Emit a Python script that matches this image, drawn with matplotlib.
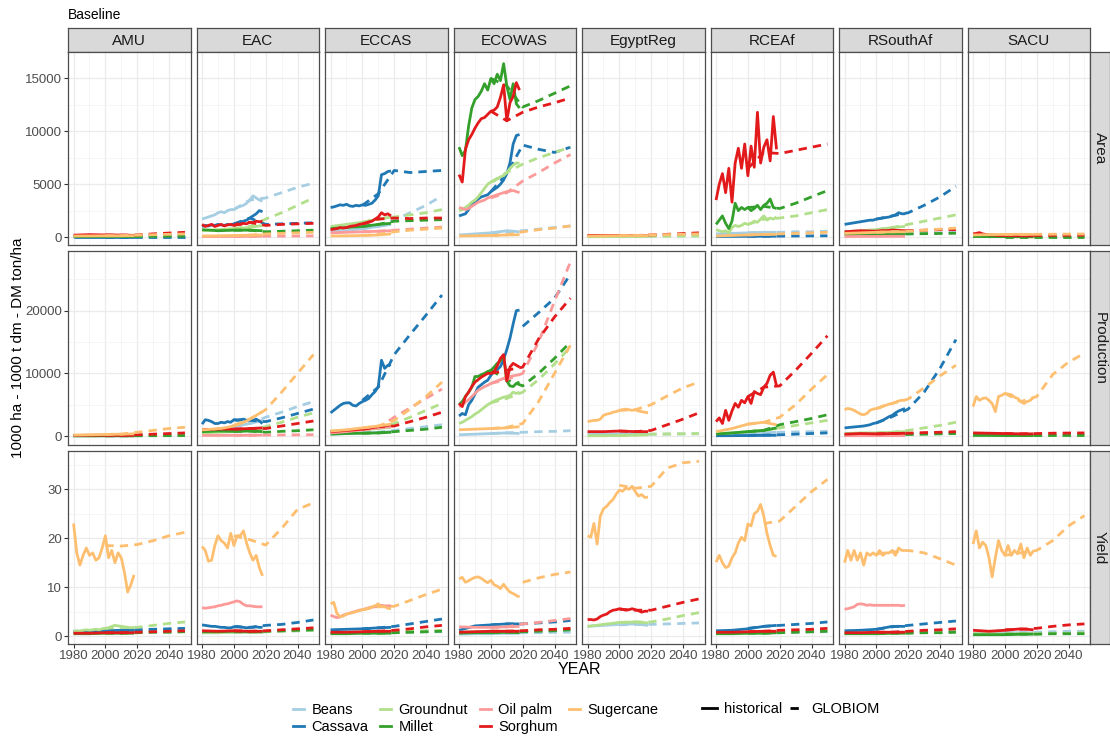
import matplotlib
matplotlib.use("Agg")
import matplotlib.pyplot as plt
from matplotlib.lines import Line2D

plt.rcParams['font.family'] = ['Liberation Sans', 'DejaVu Sans']

REGIONS = ["AMU", "EAC", "ECCAS", "ECOWAS", "EgyptReg", "RCEAf", "RSouthAf", "SACU"]
VARIABLES = ["Area", "Production", "Yield"]
CROPS = ["Beans", "Cassava", "Groundnut", "Millet", "Oil palm", "Sorghum", "Sugercane"]
COLORS = {"Beans": "#A6CEE3", "Cassava": "#1F78B4", "Groundnut": "#B2DF8A", "Millet": "#33A02C",
          "Oil palm": "#FB9A99", "Sorghum": "#E31A1C", "Sugercane": "#FDBF6F"}

# historical series: 20 values -> every 2nd year 1980-2018, 5 values -> coarse years
FINE_YEARS = list(range(1980, 2019, 2))
COARSE_YEARS = [1980, 1990, 2000, 2010, 2018]
GLOBIOM_YEARS = [2000, 2010, 2020, 2030, 2040, 2050]

# ---------------- Area ----------------
AMU_AREA = {
    "Beans": [20, 20, 30, 30, 30], "Cassava": [10, 10, 10, 10, 10],
    "Groundnut": [60, 50, 70, 80, 60], "Millet": [40, 40, 50, 60, 40],
    "Sorghum": [180, 230, 200, 190, 160], "Sugercane": [100, 110, 120, 120, 130]}
AMU_AREA_G = {
    "Beans": [30, 30, 40, 50, 50, 60], "Cassava": [10, 10, 10, 10, 10, 10],
    "Groundnut": [70, 80, 90, 110, 130, 150], "Millet": [50, 60, 60, 70, 80, 90],
    "Sorghum": [200, 180, 200, 300, 380, 450], "Sugercane": [120, 130, 180, 220, 260, 300]}

EAC_AREA = {
    "Beans": [1700, 1800, 1900, 2000, 2100, 2300, 2400, 2300, 2500, 2600, 2600, 2800, 2900, 3000, 3200, 3500, 3900, 3700, 3500, 3400],
    "Cassava": [1000, 1100, 1050, 1150, 1100, 1200, 1150, 1100, 1200, 1150, 1250, 1300, 1400, 1500, 1600, 1800, 2000, 2200, 2500, 2400],
    "Groundnut": [600, 700, 800, 900, 1100], "Millet": [700, 600, 650, 650, 600],
    "Oil palm": [50, 50, 60, 70, 80],
    "Sorghum": [1200, 1000, 1100, 1200, 1000, 1100, 1200, 1050, 1150, 1200, 1100, 1250, 1200, 1300, 1250, 1400, 1350, 1500, 1450, 1500],
    "Sugercane": [100, 120, 150, 180, 200]}
EAC_AREA_G = {
    "Beans": [2600, 3500, 3700, 4200, 4700, 5100], "Cassava": [1250, 1800, 1200, 1250, 1300, 1350],
    "Groundnut": [800, 1000, 1700, 2300, 3000, 3700], "Millet": [650, 650, 500, 550, 600, 650],
    "Oil palm": [60, 70, 80, 90, 100, 110], "Sorghum": [1100, 1400, 1100, 1200, 1250, 1300],
    "Sugercane": [150, 180, 300, 350, 400, 450]}

ECCAS_AREA = {
    "Beans": [500, 600, 800, 1000, 1200],
    "Cassava": [2800, 2850, 2950, 3050, 3000, 3100, 2950, 2900, 3000, 2950, 3050, 3000, 3100, 3200, 3500, 3900, 5900, 6000, 6200, 6250],
    "Groundnut": [1000, 1200, 1400, 1700, 1900], "Millet": [800, 900, 1000, 1200, 1300],
    "Oil palm": [400, 450, 500, 550, 600],
    "Sorghum": [700, 750, 800, 900, 850, 900, 1000, 1050, 1100, 1200, 1250, 1300, 1400, 1500, 1700, 1900, 2300, 2100, 2200, 2000],
    "Sugercane": [100, 120, 150, 200, 300]}
ECCAS_AREA_G = {
    "Beans": [800, 1000, 1600, 2300, 3000, 3900], "Cassava": [3000, 4100, 6300, 6100, 6200, 6300],
    "Groundnut": [1400, 1700, 1900, 2100, 2300, 2600], "Millet": [1000, 1200, 1500, 1550, 1600, 1650],
    "Oil palm": [500, 550, 650, 750, 850, 950], "Sorghum": [1250, 1700, 1800, 1750, 1800, 1800],
    "Sugercane": [150, 250, 500, 650, 750, 850]}

ECOWAS_AREA = {
    "Beans": [200, 300, 400, 600, 500],
    "Cassava": [2000, 2100, 2200, 2600, 3200, 3300, 3600, 3800, 3900, 4000, 4300, 4500, 4700, 5000, 5400, 6000, 7000, 8800, 9600, 9700],
    "Groundnut": [2500, 2600, 2800, 3000, 3300, 3500, 3800, 4200, 4600, 5000, 5200, 5300, 5500, 5700, 5800, 6100, 6500, 6800, 7000, 7000],
    "Millet": [8500, 7700, 8200, 10500, 12200, 13000, 13300, 13800, 14500, 13900, 15000, 14500, 15400, 14800, 16400, 14300, 13000, 14500, 12600, 12200],
    "Oil palm": [2800, 2700, 2600, 2700, 2900, 3100, 3300, 3400, 3500, 3700, 3800, 3900, 4000, 4100, 4200, 4300, 4350, 4400, 4300, 4200],
    "Sorghum": [5900, 5200, 8300, 9200, 9700, 10300, 10800, 11200, 11300, 11600, 11900, 12000, 12300, 13200, 14400, 11000, 12700, 13300, 14600, 13900],
    "Sugercane": [100, 120, 150, 200, 220]}
ECOWAS_AREA_G = {
    "Beans": [400, 500, 600, 750, 900, 1050], "Cassava": [4300, 6000, 8700, 8300, 8000, 8500],
    "Groundnut": [5200, 6100, 6900, 7500, 8000, 8500], "Millet": [15000, 14300, 12300, 12900, 13600, 14300],
    "Oil palm": [3700, 4200, 5300, 6100, 7000, 7800], "Sorghum": [11900, 11000, 11800, 12300, 12700, 13150],
    "Sugercane": [150, 200, 500, 700, 850, 1050]}

EGYPT_AREA = {
    "Beans": [120, 100, 110, 90, 80], "Groundnut": [30, 40, 50, 60, 60],
    "Sorghum": [160, 150, 160, 150, 140], "Sugercane": [100, 110, 130, 140, 140]}
EGYPT_AREA_G = {
    "Beans": [100, 90, 100, 110, 120, 130], "Groundnut": [50, 60, 70, 80, 90, 100],
    "Sorghum": [150, 150, 200, 260, 330, 400], "Sugercane": [130, 140, 200, 230, 260, 300]}

RCEAF_AREA = {
    "Beans": [300, 350, 400, 450, 450], "Cassava": [50, 60, 70, 80, 80],
    "Groundnut": [700, 600, 500, 600, 400, 900, 1100, 1000, 1100, 1300, 1200, 1300, 1500, 1400, 1700, 2000, 1600, 1800, 1700, 1900],
    "Millet": [1200, 1600, 2000, 1300, 800, 1500, 3200, 2500, 2800, 2600, 2800, 2500, 2700, 3000, 2600, 3000, 3200, 3600, 2800, 2700],
    "Sorghum": [3500, 5000, 6000, 4200, 6500, 3300, 7000, 8400, 6500, 8800, 5800, 8600, 6600, 11800, 7000, 8500, 9200, 7200, 11400, 8300],
    "Sugercane": [100, 150, 200, 250, 250]}
RCEAF_AREA_G = {
    "Beans": [400, 450, 450, 500, 500, 550], "Cassava": [70, 80, 90, 100, 110, 120],
    "Groundnut": [1200, 1700, 1800, 2000, 2300, 2600], "Millet": [2800, 2900, 2700, 3200, 3800, 4400],
    "Sorghum": [6500, 8000, 7900, 8200, 8500, 8800], "Sugercane": [200, 250, 300, 350, 400, 450]}

RSOUTH_AREA = {
    "Beans": [200, 250, 250, 300, 300],
    "Cassava": [1200, 1250, 1300, 1350, 1400, 1450, 1500, 1550, 1600, 1600, 1700, 1750, 1800, 1850, 1900, 2000, 2100, 2300, 2200, 2200],
    "Groundnut": [500, 600, 700, 900, 1000], "Millet": [200, 250, 250, 300, 300],
    "Oil palm": [50, 60, 60, 70, 70], "Sorghum": [500, 600, 550, 650, 600],
    "Sugercane": [350, 400, 450, 500, 500]}
RSOUTH_AREA_G = {
    "Beans": [250, 300, 300, 350, 400, 450], "Cassava": [1700, 2000, 2300, 3000, 3800, 4800],
    "Groundnut": [700, 900, 1200, 1500, 1800, 2100], "Millet": [250, 300, 300, 320, 340, 360],
    "Sorghum": [550, 650, 600, 650, 700, 700], "Sugercane": [450, 500, 550, 650, 750, 850]}

SACU_AREA = {
    "Beans": [50, 50, 60, 60, 60], "Groundnut": [80, 60, 50, 40, 40], "Millet": [50, 40, 40, 30, 30],
    "Sorghum": [300, 350, 420, 300, 250, 200, 200, 180, 150, 150, 150, 130, 140, 130, 120, 130, 120, 110, 120, 110],
    "Sugercane": [200, 230, 250, 260, 250]}
SACU_AREA_G = {
    "Beans": [60, 60, 70, 70, 80, 80], "Groundnut": [40, 40, 50, 50, 60, 60],
    "Millet": [30, 30, 30, 30, 30, 30], "Sorghum": [150, 130, 150, 160, 170, 180],
    "Sugercane": [250, 250, 260, 270, 280, 290]}

# ---------------- Production ----------------
AMU_PROD = {
    "Beans": [20, 20, 30, 30, 30], "Groundnut": [50, 50, 60, 70, 70], "Millet": [30, 30, 40, 40, 30],
    "Sorghum": [100, 120, 130, 120, 110], "Sugercane": [150, 200, 250, 300, 350]}
AMU_PROD_G = {
    "Beans": [30, 30, 40, 50, 60, 70], "Groundnut": [60, 70, 100, 150, 200, 250],
    "Millet": [40, 40, 50, 60, 70, 80], "Sorghum": [130, 120, 200, 300, 400, 500],
    "Sugercane": [250, 300, 600, 900, 1200, 1400]}

EAC_PROD = {
    "Beans": [800, 1100, 1500, 2000, 2500],
    "Cassava": [1900, 2600, 2500, 2300, 2000, 2000, 2200, 2100, 2300, 2200, 2600, 2500, 2600, 2700, 2500, 2600, 2500, 2700, 2400, 2000],
    "Groundnut": [500, 600, 700, 900, 1000], "Millet": [700, 800, 750, 800, 700],
    "Oil palm": [100, 100, 120, 130, 150], "Sorghum": [1000, 1100, 1100, 1200, 1300],
    "Sugercane": [1000, 1000, 1050, 1100, 1100, 1200, 1200, 1300, 1400, 1500, 1700, 1800, 2000, 2200, 2400, 2700, 3000, 3300, 3600, 3900]}
EAC_PROD_G = {
    "Beans": [1500, 2000, 3000, 3800, 4700, 5500], "Cassava": [2600, 2500, 2300, 2900, 3600, 4300],
    "Groundnut": [700, 900, 1500, 2200, 3000, 3700], "Millet": [750, 800, 600, 750, 850, 1000],
    "Oil palm": [120, 130, 150, 170, 190, 210], "Sorghum": [1100, 1200, 1200, 1600, 2000, 2400],
    "Sugercane": [1700, 2700, 4200, 7000, 10000, 13000]}

ECCAS_PROD = {
    "Beans": [300, 400, 500, 600, 700],
    "Cassava": [3700, 4100, 4500, 4900, 5200, 5300, 5300, 4900, 4800, 5200, 5500, 5700, 6000, 6600, 7100, 7900, 12100, 10800, 11300, 11400],
    "Groundnut": [800, 900, 1000, 1200, 1400], "Millet": [300, 400, 450, 500, 600],
    "Oil palm": [500, 700, 1000, 1300, 1500], "Sorghum": [700, 900, 1100, 1500, 1800],
    "Sugercane": [800, 1000, 1300, 1600, 1900]}
ECCAS_PROD_G = {
    "Beans": [500, 600, 900, 1200, 1500, 1800], "Cassava": [5700, 7800, 13000, 16200, 19300, 22500],
    "Groundnut": [1000, 1200, 2000, 3000, 4100, 5200], "Millet": [450, 500, 700, 900, 1100, 1400],
    "Oil palm": [1000, 1300, 3000, 4500, 6000, 7500], "Sorghum": [1100, 1500, 1600, 2300, 3000, 3800],
    "Sugercane": [1300, 1600, 2500, 4300, 6300, 8600]}

ECOWAS_PROD = {
    "Beans": [200, 300, 400, 500, 400],
    "Cassava": [3200, 3600, 3400, 5000, 5700, 6700, 7800, 8200, 8600, 8900, 9700, 10300, 10600, 11100, 12200, 13800, 15600, 17900, 20000, 20100],
    "Groundnut": [2000, 2200, 2500, 2800, 3100, 3500, 3800, 4200, 4600, 5000, 5300, 5600, 5800, 6000, 6200, 6300, 6500, 7000, 6800, 7000],
    "Millet": [5000, 5500, 6300, 7000, 7800, 9500, 9500, 9800, 10000, 10300, 10500, 11000, 11600, 12000, 12900, 8800, 8000, 7900, 8400, 8600],
    "Oil palm": [4700, 5000, 5400, 5800, 6300, 6800, 7300, 7600, 7900, 8100, 8400, 8600, 8800, 9000, 9200, 9400, 9500, 9600, 9700, 9800],
    "Sorghum": [5200, 4700, 6300, 7000, 7900, 8600, 9000, 9400, 9700, 10000, 10000, 10300, 11200, 12400, 13000, 8800, 11000, 11600, 11300, 11000],
    "Sugercane": [1000, 1100, 1200, 1300, 1500]}
ECOWAS_PROD_G = {
    "Beans": [400, 500, 600, 700, 750, 850], "Cassava": [None, None, 17500, 19700, 22000, 25800],
    "Groundnut": [5300, 6000, 7000, 9000, 11500, 14200], "Millet": [10500, 9000, 8000, 10000, 12400, 15000],
    "Oil palm": [8400, 9000, 10000, 15000, 21500, 27800], "Sorghum": [10000, 10500, 11000, 15500, 19000, 22000],
    "Sugercane": [1200, 1400, 2000, 5500, 10000, 14500]}

EGYPT_PROD = {
    "Beans": [300, 300, 350, 300, 250], "Groundnut": [50, 60, 100, 150, 200],
    "Sorghum": [700, 700, 800, 700, 700],
    "Sugercane": [2300, 2400, 2500, 2500, 2700, 3300, 3500, 3600, 3800, 3900, 4100, 4200, 4300, 4200, 4100, 4200, 4000, 3900, 3800, 3700]}
EGYPT_PROD_G = {
    "Beans": [350, 300, 300, 320, 340, 360], "Groundnut": [100, 150, 300, 330, 360, 400],
    "Sorghum": [800, 700, 900, 1800, 2700, 3700], "Sugercane": [4100, 4200, 5000, 6400, 7700, 8600]}

RCEAF_PROD = {
    "Beans": [200, 300, 400, 500, 600], "Cassava": [50, 60, 80, 100, 120],
    "Groundnut": [400, 500, 700, 900, 1200], "Millet": [300, 500, 700, 900, 1300],
    "Sorghum": [2300, 2900, 2000, 4100, 2500, 4000, 5200, 4600, 5700, 5300, 6300, 5200, 7100, 6800, 6600, 7800, 8400, 9700, 10200, 8000],
    "Sugercane": [700, 1200, 1900, 2200, 1800]}
RCEAF_PROD_G = {
    "Beans": [400, 500, 600, 650, 700, 750], "Cassava": [100, 150, 200, 300, 400, 500],
    "Groundnut": [700, 900, 1300, 1700, 2100, 2500], "Millet": [700, 900, 1800, 2300, 2800, 3400],
    "Sorghum": [6300, 7800, 8000, 10500, 13200, 16000], "Sugercane": [1900, 2200, 3000, 5000, 7500, 9800]}

RSOUTH_PROD = {
    "Beans": [100, 150, 200, 250, 300],
    "Cassava": [1300, 1350, 1400, 1450, 1500, 1550, 1600, 1700, 1800, 2000, 2100, 2300, 2500, 2800, 3100, 3300, 3700, 4000, 4200, 4400],
    "Groundnut": [400, 500, 500, 600, 700], "Millet": [150, 200, 200, 200, 250],
    "Oil palm": [50, 60, 60, 70, 70], "Sorghum": [300, 400, 350, 400, 450],
    "Sugercane": [4200, 4400, 4300, 4100, 3800, 3500, 3400, 3600, 4100, 4300, 4400, 4500, 4800, 4900, 5100, 5200, 5400, 5600, 5700, 5700]}
RSOUTH_PROD_G = {
    "Beans": [200, 250, 300, 350, 400, 450], "Cassava": [2100, 3100, 4300, 7000, 10800, 15400],
    "Groundnut": [500, 600, 900, 1300, 1700, 2200], "Millet": [200, 200, 250, 300, 350, 400],
    "Sorghum": [350, 400, 450, 550, 600, 700], "Sugercane": [4400, 5200, 5900, 7700, 9600, 11300]}

SACU_PROD = {
    "Beans": [50, 60, 60, 60, 70], "Groundnut": [100, 100, 80, 70, 60], "Millet": [100, 100, 80, 80, 80],
    "Sorghum": [500, 450, 400, 350, 350],
    "Sugercane": [4700, 6300, 5700, 6000, 6100, 5700, 5200, 3900, 6300, 6500, 6800, 6700, 6600, 6200, 6000, 5500, 5200, 5500, 5700, 6200]}
SACU_PROD_G = {
    "Beans": [60, 70, 80, 90, 100, 110], "Groundnut": [80, 70, 70, 80, 90, 100],
    "Millet": [80, 80, 80, 90, 90, 100], "Sorghum": [400, 350, 400, 450, 480, 500],
    "Sugercane": [6800, 5500, 6300, 9800, 11800, 13200]}

# ---------------- Yield ----------------
AMU_YIELD = {
    "Beans": [0.8, 0.9, 1.0, 1.1, 1.1], "Cassava": [1.0, 1.0, 1.1, 1.2, 1.2],
    "Groundnut": [1.0, 1.1, 1.0, 1.2, 1.3, 1.2, 1.3, 1.4, 1.3, 1.5, 1.6, 1.7, 2.0, 2.2, 2.1, 2.0, 1.9, 1.8, 1.7, 1.8],
    "Millet": [0.5, 0.5, 0.6, 0.6, 0.6], "Sorghum": [0.6, 0.6, 0.7, 0.7, 0.7],
    "Sugercane": [23.0, 17.0, 14.5, 16.5, 18.0, 16.5, 17.0, 15.5, 16.0, 18.0, 20.5, 16.0, 17.5, 15.0, 17.0, 16.0, 13.0, 9.0, 10.5, 12.5]}
AMU_YIELD_G = {
    "Beans": [1.0, 1.1, 1.2, 1.3, 1.4, 1.5], "Cassava": [1.1, 1.2, 1.3, 1.4, 1.5, 1.6],
    "Groundnut": [1.6, 1.8, 1.8, 2.2, 2.6, 2.9], "Millet": [0.6, 0.6, 0.7, 0.8, 0.8, 0.9],
    "Sorghum": [0.7, 0.7, 0.8, 0.9, 1.0, 1.1], "Sugercane": [18.5, 18.4, 18.7, 19.5, 20.5, 21.2]}

EAC_YIELD = {
    "Beans": [0.7, 0.7, 0.8, 0.8, 0.8],
    "Cassava": [2.3, 2.2, 2.1, 2.0, 2.0, 1.9, 1.8, 1.8, 1.7, 1.7, 1.9, 2.0, 1.9, 1.8, 1.7, 1.8, 1.8, 1.9, 1.8, 1.8],
    "Groundnut": [0.7, 0.7, 0.8, 0.8, 0.8], "Millet": [0.9, 0.9, 1.0, 0.9, 0.9],
    "Oil palm": [5.8, 5.7, 5.8, 5.9, 6.0, 6.2, 6.3, 6.5, 6.6, 6.8, 7.0, 7.2, 7.0, 6.5, 6.2, 6.2, 6.1, 6.0, 6.0, 6.0],
    "Sorghum": [1.1, 1.0, 1.1, 1.0, 1.0],
    "Sugercane": [18.3, 17.5, 15.3, 15.5, 18.5, 20.5, 19.5, 19.0, 18.0, 21.0, 18.5, 20.5, 20.5, 21.5, 19.0, 17.0, 15.5, 16.5, 14.0, 12.3]}
EAC_YIELD_G = {
    "Beans": [0.8, 0.8, 0.9, 1.0, 1.1, 1.2], "Cassava": [1.9, 1.8, 2.2, 2.4, 2.8, 3.3],
    "Groundnut": [0.8, 0.8, 0.9, 1.0, 1.1, 1.2], "Millet": [0.9, 0.9, 1.0, 1.1, 1.2, 1.3],
    "Sorghum": [1.1, 1.0, 1.1, 1.3, 1.5, 1.7], "Sugercane": [20.5, 19.7, 18.6, 22.0, 25.9, 27.2]}

ECCAS_YIELD = {
    "Beans": [0.6, 0.6, 0.7, 0.7, 0.7], "Cassava": [1.3, 1.4, 1.5, 1.7, 1.8],
    "Groundnut": [0.7, 0.7, 0.8, 0.8, 0.8], "Millet": [0.5, 0.5, 0.6, 0.6, 0.6],
    "Oil palm": [4.3, 4.0, 3.8, 3.9, 4.3, 4.5, 4.7, 4.9, 5.1, 5.3, 5.4, 5.6, 5.8, 5.9, 6.0, 6.1, 6.3, 6.2, 6.2, 6.2],
    "Sorghum": [0.8, 0.8, 0.9, 1.0, 1.0],
    "Sugercane": [6.6, 6.9, 4.6, 4.0, 4.1, 4.5, 4.7, 4.8, 5.0, 5.2, 5.4, 5.5, 5.7, 6.0, 6.2, 6.6, 6.0, 6.0, 5.7, 5.6]}
ECCAS_YIELD_G = {
    "Beans": [0.7, 0.7, 0.8, 0.8, 0.9, 0.9], "Cassava": [1.5, 1.7, 2.0, 2.5, 3.0, 3.5],
    "Groundnut": [0.8, 0.8, 0.9, 1.0, 1.1, 1.2], "Millet": [0.6, 0.6, 0.7, 0.8, 0.9, 1.0],
    "Sorghum": [0.9, 1.0, 1.2, 1.5, 1.9, 2.2], "Sugercane": [5.4, 6.0, 6.1, 7.3, 8.5, 9.6]}

ECOWAS_YIELD = {
    "Beans": [0.4, 0.5, 0.5, 0.6, 0.6], "Cassava": [1.2, 2.1, 2.3, 2.5, 2.5],
    "Groundnut": [0.8, 0.9, 1.0, 1.0, 1.0], "Millet": [0.6, 0.7, 0.7, 0.8, 0.7],
    "Oil palm": [1.9, 1.8, 1.8, 1.9, 2.0], "Sorghum": [0.8, 0.9, 1.0, 1.0, 1.0],
    "Sugercane": [11.7, 12.0, 11.0, 11.3, 11.7, 12.0, 12.1, 11.8, 11.3, 10.9, 11.4, 10.5, 10.2, 9.7, 10.6, 9.7, 9.0, 8.7, 8.3, 8.0]}
ECOWAS_YIELD_G = {
    "Beans": [0.6, 0.6, 0.7, 0.7, 0.8, 0.8], "Cassava": [2.3, 2.5, 2.5, 2.7, 2.9, 3.2],
    "Groundnut": [1.0, 1.0, 1.1, 1.2, 1.3, 1.4], "Millet": [0.7, 0.8, 0.9, 1.0, 1.1, 1.3],
    "Oil palm": [1.8, 1.9, 2.5, 2.8, 3.2, 3.6], "Sorghum": [1.0, 1.0, 1.1, 1.3, 1.4, 1.6],
    "Sugercane": [None, None, 11.0, 11.9, 12.6, 13.1]}

EGYPT_YIELD = {
    "Beans": [2.0, 2.2, 2.4, 2.5, 2.2], "Groundnut": [2.0, 2.4, 2.8, 2.9, 2.7],
    "Sorghum": [3.4, 3.4, 3.3, 3.5, 4.0, 4.3, 4.5, 5.0, 5.3, 5.4, 5.6, 5.5, 5.3, 5.4, 5.6, 5.4, 5.2, 4.9, 5.1, 5.1],
    "Sugercane": [20.5, 20.2, 23.0, 18.8, 24.5, 26.0, 26.5, 27.3, 27.9, 29.0, 29.8, 29.6, 30.2, 30.0, 30.6, 29.5, 28.6, 28.9, 28.3, 28.4]}
EGYPT_YIELD_G = {
    "Beans": [2.3, 2.4, 2.4, 2.5, 2.6, 2.7], "Groundnut": [2.8, 2.9, 2.9, 3.5, 4.2, 4.8],
    "Sorghum": [5.5, 5.3, 5.3, 6.1, 6.9, 7.6], "Sugercane": [30.8, 30.2, 30.6, 34.3, 35.4, 35.7]}

RCEAF_YIELD = {
    "Beans": [0.6, 0.6, 0.7, 0.7, 0.7], "Cassava": [1.1, 1.2, 1.5, 2.0, 2.2],
    "Groundnut": [0.6, 0.6, 0.7, 0.8, 0.8], "Millet": [0.5, 0.5, 0.6, 0.6, 0.7],
    "Sorghum": [0.8, 0.8, 0.9, 1.0, 1.0],
    "Sugercane": [15.1, 16.5, 15.0, 14.0, 14.3, 16.0, 17.0, 19.0, 20.2, 19.5, 22.9, 22.5, 25.0, 25.5, 26.9, 24.5, 21.0, 18.5, 16.5, 16.3]}
RCEAF_YIELD_G = {
    "Beans": [0.7, 0.7, 0.8, 0.8, 0.9, 0.9], "Cassava": [1.6, 2.0, 2.2, 2.4, 2.6, 2.9],
    "Groundnut": [0.7, 0.8, 0.9, 1.0, 1.1, 1.2], "Millet": [0.6, 0.6, 0.7, 0.8, 0.9, 1.0],
    "Sorghum": [0.9, 1.0, 1.2, 1.3, 1.4, 1.6], "Sugercane": [None, 23.0, 23.5, 26.5, 29.5, 32.0]}

RSOUTH_YIELD = {
    "Beans": [0.7, 0.7, 0.8, 0.8, 0.8], "Cassava": [1.1, 1.2, 1.4, 2.0, 2.0],
    "Groundnut": [0.5, 0.6, 0.6, 0.7, 0.7], "Millet": [0.5, 0.5, 0.5, 0.6, 0.6],
    "Oil palm": [5.5, 5.6, 5.8, 6.0, 6.5, 6.6, 6.5, 6.3, 6.4, 6.3, 6.3, 6.3, 6.3, 6.3, 6.3, 6.3, 6.3, 6.3, 6.2, 6.3],
    "Sorghum": [0.7, 0.7, 0.8, 0.8, 0.8],
    "Sugercane": [15.0, 17.5, 15.5, 17.5, 15.5, 17.0, 14.5, 17.0, 16.5, 17.0, 16.5, 17.5, 16.5, 17.0, 17.0, 17.5, 16.5, 18.0, 17.5, 17.5]}
RSOUTH_YIELD_G = {
    "Beans": [0.8, 0.8, 0.9, 0.9, 1.0, 1.0], "Cassava": [1.4, 1.9, 2.2, 2.5, 2.8, 3.1],
    "Groundnut": [0.6, 0.7, 0.7, 0.8, 0.8, 0.9], "Millet": [0.5, 0.6, 0.6, 0.7, 0.7, 0.8],
    "Sorghum": [0.8, 0.8, 1.0, 1.2, 1.3, 1.5], "Sugercane": [16.8, 17.2, 17.5, 17.0, 15.8, 14.5]}

SACU_YIELD = {
    "Beans": [0.6, 0.6, 0.7, 0.7, 0.7], "Groundnut": [0.5, 0.5, 0.4, 0.5, 0.5],
    "Millet": [0.3, 0.3, 0.3, 0.4, 0.4], "Sorghum": [1.2, 1.0, 1.2, 1.5, 1.3],
    "Sugercane": [18.8, 21.5, 18.0, 19.2, 18.5, 16.0, 12.1, 16.0, 19.5, 17.5, 16.5, 18.5, 16.5, 17.5, 16.8, 18.8, 16.0, 18.0, 16.5, 17.5]}
SACU_YIELD_G = {
    "Beans": [0.7, 0.7, 0.8, 0.9, 1.0, 1.0], "Groundnut": [0.5, 0.5, 0.5, 0.6, 0.6, 0.7],
    "Millet": [0.4, 0.4, 0.4, 0.5, 0.5, 0.5], "Sorghum": [1.3, 1.4, 1.6, 2.0, 2.3, 2.5],
    "Sugercane": [16.5, 17.0, 17.5, 19.5, 22.5, 24.6]}

HIST = {
    "Area": [AMU_AREA, EAC_AREA, ECCAS_AREA, ECOWAS_AREA, EGYPT_AREA, RCEAF_AREA, RSOUTH_AREA, SACU_AREA],
    "Production": [AMU_PROD, EAC_PROD, ECCAS_PROD, ECOWAS_PROD, EGYPT_PROD, RCEAF_PROD, RSOUTH_PROD, SACU_PROD],
    "Yield": [AMU_YIELD, EAC_YIELD, ECCAS_YIELD, ECOWAS_YIELD, EGYPT_YIELD, RCEAF_YIELD, RSOUTH_YIELD, SACU_YIELD]}
GLOB = {
    "Area": [AMU_AREA_G, EAC_AREA_G, ECCAS_AREA_G, ECOWAS_AREA_G, EGYPT_AREA_G, RCEAF_AREA_G, RSOUTH_AREA_G, SACU_AREA_G],
    "Production": [AMU_PROD_G, EAC_PROD_G, ECCAS_PROD_G, ECOWAS_PROD_G, EGYPT_PROD_G, RCEAF_PROD_G, RSOUTH_PROD_G, SACU_PROD_G],
    "Yield": [AMU_YIELD_G, EAC_YIELD_G, ECCAS_YIELD_G, ECOWAS_YIELD_G, EGYPT_YIELD_G, RCEAF_YIELD_G, RSOUTH_YIELD_G, SACU_YIELD_G]}

Y_TICKS = {"Area": [0, 5000, 10000, 15000], "Production": [0, 10000, 20000], "Yield": [0, 10, 20, 30]}
Y_MINOR = {"Area": [2500, 7500, 12500, 17500], "Production": [5000, 15000, 25000], "Yield": [5, 15, 25, 35]}
Y_LIMS = {"Area": (-750, 17350), "Production": (-1350, 29450), "Yield": (-1.6, 37.8)}

# figure layout (pixels)
W, H = 1110, 737
fig = plt.figure(figsize=(W / 100, H / 100), dpi=100)

def px_axes(x, y, w, h):
    return fig.add_axes([x / W, 1 - (y + h) / H, w / W, h / H])

BORDER = "#4d4d4d"
LW = 2.0
DASH = (0, (3.0, 2.2))
col_left = [68 + 128.5 * i for i in range(8)]
row_top = [52, 251.5, 451]
pw, ph = 122.5, 193

for c, region in enumerate(REGIONS):
    # top strip
    sax = px_axes(col_left[c], 28, pw, 24)
    sax.set_facecolor("#D9D9D9")
    sax.set_xticks([]); sax.set_yticks([])
    for s in sax.spines.values():
        s.set_color(BORDER); s.set_linewidth(0.9)
    sax.text(0.5, 0.47, region, ha="center", va="center", fontsize=11, color="#1a1a1a", transform=sax.transAxes)

    for r, var in enumerate(VARIABLES):
        ax = px_axes(col_left[c], row_top[r], pw, ph)
        ax.set_xlim(1976.5, 2053.5)
        ax.set_ylim(*Y_LIMS[var])
        ax.set_xticks([1980, 2000, 2020, 2040])
        ax.set_xticks([1990, 2010, 2030, 2050], minor=True)
        ax.set_yticks(Y_TICKS[var])
        ax.set_yticks(Y_MINOR[var], minor=True)
        ax.grid(which="major", color="#EBEBEB", linewidth=0.9)
        ax.grid(which="minor", color="#F4F4F4", linewidth=0.6)
        ax.set_axisbelow(True)
        for s in ax.spines.values():
            s.set_color(BORDER); s.set_linewidth(0.9)
        ax.tick_params(which="minor", length=0)
        ax.tick_params(which="major", length=3, color="#333333", labelsize=9.5, labelcolor="#4d4d4d", pad=1.5)
        if c != 0:
            ax.tick_params(axis="y", length=0, labelleft=False)
        if r != 2:
            ax.tick_params(axis="x", length=0, labelbottom=False)

        hist = HIST[var][c]
        glob = GLOB[var][c]
        for crop in CROPS:
            if crop in hist:
                vals = hist[crop]
                yrs = FINE_YEARS if len(vals) == len(FINE_YEARS) else COARSE_YEARS
                ax.plot(yrs, vals, color=COLORS[crop], lw=LW, solid_capstyle="butt", solid_joinstyle="round")
            if crop in glob:
                pts = [(yr, v) for yr, v in zip(GLOBIOM_YEARS, glob[crop]) if v is not None]
                ax.plot([p[0] for p in pts], [p[1] for p in pts], color=COLORS[crop], lw=LW,
                        linestyle=DASH, dash_capstyle="butt")

        if c == 7:
            rax = px_axes(col_left[c] + pw, row_top[r], 1110 - (col_left[c] + pw), ph)
            rax.set_facecolor("#D9D9D9")
            rax.set_xticks([]); rax.set_yticks([])
            for s in rax.spines.values():
                s.set_color(BORDER); s.set_linewidth(0.9)
            rax.text(0.5, 0.5, var, ha="center", va="center", rotation=270, fontsize=11, color="#1a1a1a",
                     transform=rax.transAxes)

fig.text(68 / W, 1 - 15 / H, "Baseline", ha="left", va="center", fontsize=10)
fig.text(18 / W, 1 - 348 / H, "1000 ha - 1000 t dm - DM ton/ha", ha="center", va="center", rotation=90, fontsize=11)
fig.text(579 / W, 1 - 670 / H, "YEAR", ha="center", va="center", fontsize=11.5)

crop_handles = [Line2D([], [], color=COLORS[cr], lw=LW) for cr in CROPS]
fig.legend(crop_handles, CROPS, ncol=4, loc="center", bbox_to_anchor=(476 / W, 1 - 718.5 / H),
           frameon=False, fontsize=10.5, handlelength=0.75, handletextpad=0.5, columnspacing=0.8,
           labelspacing=0.2, borderpad=0)
type_handles = [Line2D([], [], color="black", lw=LW), Line2D([], [], color="black", lw=LW, linestyle=DASH)]
fig.legend(type_handles, ["historical", "GLOBIOM"], ncol=2, loc="center", bbox_to_anchor=(791 / W, 1 - 709 / H),
           frameon=False, fontsize=10.5, handlelength=1.0, handletextpad=0.5, columnspacing=0.5, borderpad=0)

fig.savefig("out.png", dpi=100)
